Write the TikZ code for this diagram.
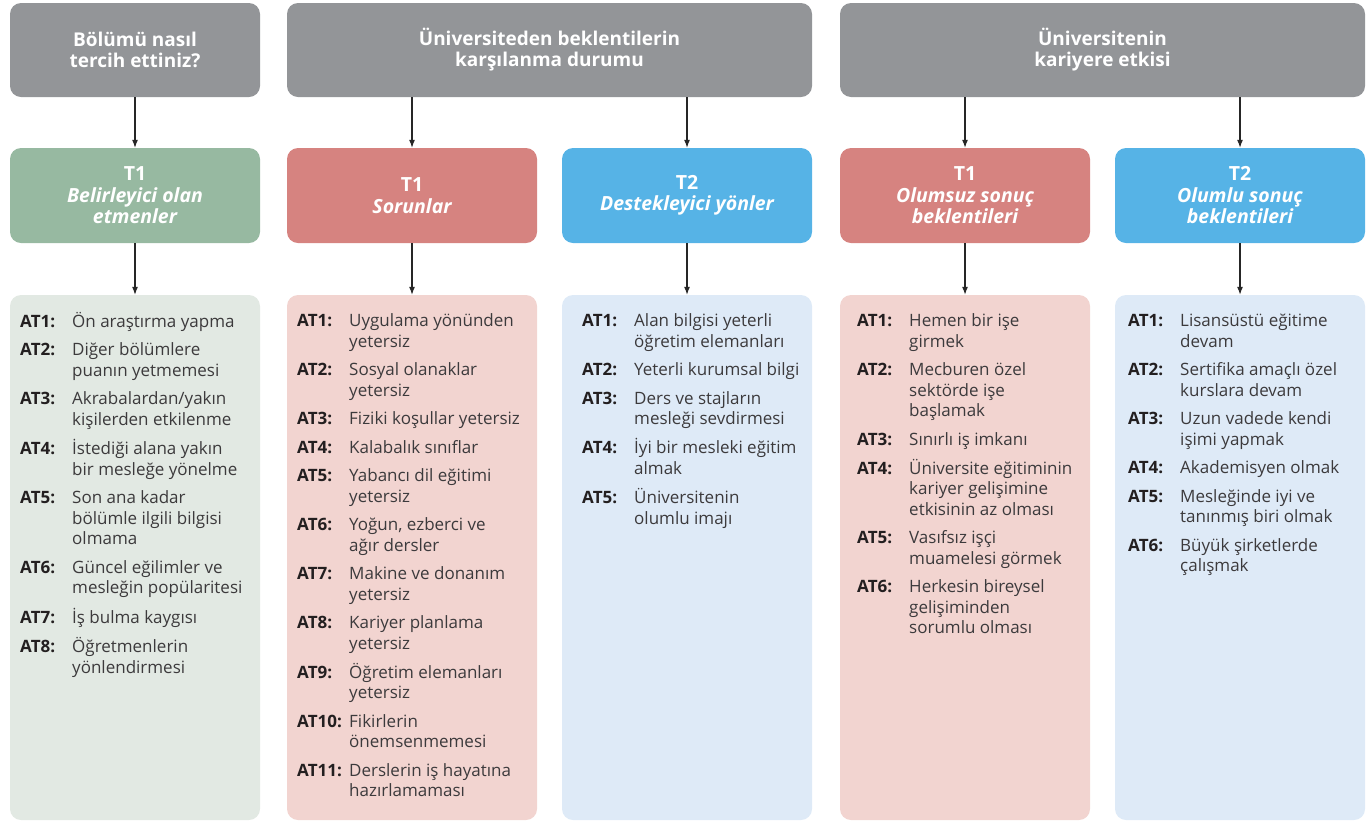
\documentclass[tikz,border=0pt]{standalone}
\usepackage{fontspec}
\setmainfont{Open Sans}
\usepackage{array}
\usetikzlibrary{arrows.meta,positioning}

\definecolor{qgray}{RGB}{147,149,152}
\definecolor{tgreen}{RGB}{151,185,161}
\definecolor{tred}{RGB}{214,131,128}
\definecolor{tblue}{RGB}{86,179,230}
\definecolor{lgreen}{RGB}{226,233,227}
\definecolor{lred}{RGB}{242,212,208}
\definecolor{lblue}{RGB}{222,234,247}
\definecolor{ink}{RGB}{35,31,32}
\definecolor{itemink}{RGB}{60,58,60}

% one list of codes: label column + item column
\newcommand{\atlist}[1]{%
  \fontsize{17}{20.5}\selectfont
  \begin{tabular}{@{}>{\leavevmode\bfseries\color{ink}}p{52pt}@{}>{\leavevmode\raggedright\arraybackslash\color{itemink}}p{200pt}@{}}#1\end{tabular}}
\newcommand{\gap}{\\\noalign{\vskip 8pt}}

\begin{document}
\begin{tikzpicture}[x=1pt,y=-1pt,
  qbox/.style={fill=qgray,rounded corners=11pt,minimum height=94pt,align=center,
    text=white,font=\fontsize{19}{21}\selectfont\bfseries},
  tbox/.style={rounded corners=11pt,minimum width=250pt,minimum height=95pt,align=center,
    text=white,font=\fontsize{19.5}{21.5}\selectfont\bfseries},
  lbox/.style={rounded corners=11pt,minimum width=250pt,minimum height=525pt},
  ltext/.style={anchor=north west,inner sep=0pt},
  arr/.style={-{Latex[length=8pt,width=6pt]},line width=1.1pt,black!85}]
\useasboundingbox (0,0) rectangle (1372,823);

% questions
\node[qbox,minimum width=250pt] (q1) at (135,50) {Bölümü nasıl\\tercih ettiniz?};
\node[qbox,minimum width=525pt] (q2) at (549.5,50) {Üniversiteden beklentilerin\\karşılanma durumu};
\node[qbox,minimum width=525pt] (q3) at (1102.5,50) {Üniversitenin\\kariyere etkisi};

% themes
\node[tbox,fill=tgreen] (t1) at (135,195.5) {T1\\\itshape Belirleyici olan\\\itshape etmenler};
\node[tbox,fill=tred] (t2) at (412,195.5) {T1\\\itshape Sorunlar};
\node[tbox,fill=tblue] (t3) at (687,195.5) {T2\\\itshape Destekleyici yönler};
\node[tbox,fill=tred] (t4) at (965,195.5) {T1\\\itshape Olumsuz sonuç\\\itshape beklentileri};
\node[tbox,fill=tblue] (t5) at (1240,195.5) {T2\\\itshape Olumlu sonuç\\\itshape beklentileri};

% sub-theme panels
\node[lbox,fill=lgreen] (l1) at (135,557.5) {};
\node[lbox,fill=lred] (l2) at (412,557.5) {};
\node[lbox,fill=lblue] (l3) at (687,557.5) {};
\node[lbox,fill=lred] (l4) at (965,557.5) {};
\node[lbox,fill=lblue] (l5) at (1240,557.5) {};

\draw[arr] (q1) -- (t1);
\draw[arr] (q2.south -| t2.north) -- (t2.north);
\draw[arr] (q2.south -| t3.north) -- (t3.north);
\draw[arr] (q3.south -| t4.north) -- (t4.north);
\draw[arr] (q3.south -| t5.north) -- (t5.north);
\foreach \i in {1,...,5}
  \draw[arr] (t\i) -- (l\i);

\node[ltext] (a1) at (20,312) {\atlist{%
AT1: & Ön araştırma yapma\gap
AT2: & Diğer bölümlere\newline puanın yetmemesi\gap
AT3: & Akrabalardan/yakın\newline kişilerden etkilenme\gap
AT4: & İstediği alana yakın\newline bir mesleğe yönelme\gap
AT5: & Son ana kadar\newline bölümle ilgili bilgisi\newline olmama\gap
AT6: & Güncel eğilimler ve\newline mesleğin popülaritesi\gap
AT7: & İş bulma kaygısı\gap
AT8: & Öğretmenlerin\newline yönlendirmesi}};

\node[ltext] (a2) at (297,312) {\atlist{%
AT1: & Uygulama yönünden\newline yetersiz\gap
AT2: & Sosyal olanaklar\newline yetersiz\gap
AT3: & Fiziki koşullar yetersiz\gap
AT4: & Kalabalık sınıflar\gap
AT5: & Yabancı dil eğitimi\newline yetersiz\gap
AT6: & Yoğun, ezberci ve\newline ağır dersler\gap
AT7: & Makine ve donanım\newline yetersiz\gap
AT8: & Kariyer planlama\newline yetersiz\gap
AT9: & Öğretim elemanları\newline yetersiz\gap
AT10: & Fikirlerin\newline önemsenmemesi\gap
AT11: & Derslerin iş hayatına\newline hazırlamaması}};

\node[ltext] (a3) at (582,312) {\atlist{%
AT1: & Alan bilgisi yeterli\newline öğretim elemanları\gap
AT2: & Yeterli kurumsal bilgi\gap
AT3: & Ders ve stajların\newline mesleği sevdirmesi\gap
AT4: & İyi bir mesleki eğitim\newline almak\gap
AT5: & Üniversitenin\newline olumlu imajı}};

\node[ltext] (a4) at (857,312) {\atlist{%
AT1: & Hemen bir işe\newline girmek\gap
AT2: & Mecburen özel\newline sektörde işe\newline başlamak\gap
AT3: & Sınırlı iş imkanı\gap
AT4: & Üniversite eğitiminin\newline kariyer gelişimine\newline etkisinin az olması\gap
AT5: & Vasıfsız işçi\newline muamelesi görmek\gap
AT6: & Herkesin bireysel\newline gelişiminden\newline sorumlu olması}};

\node[ltext] (a5) at (1128,312) {\atlist{%
AT1: & Lisansüstü eğitime\newline devam\gap
AT2: & Sertifika amaçlı özel\newline kurslara devam\gap
AT3: & Uzun vadede kendi\newline işimi yapmak\gap
AT4: & Akademisyen olmak\gap
AT5: & Mesleğinde iyi ve\newline tanınmış biri olmak\gap
AT6: & Büyük şirketlerde\newline çalışmak}};
\end{tikzpicture}
\end{document}
